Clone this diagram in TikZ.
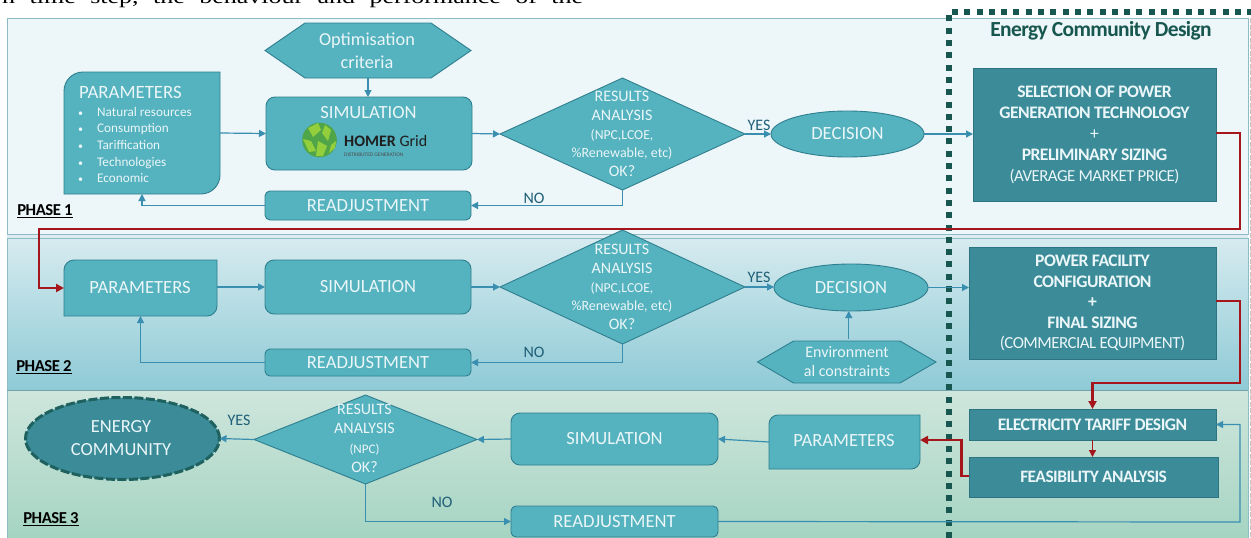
\documentclass[tikz,border=0pt]{standalone}
\usepackage{fontspec}
\setmainfont{Carlito}
\newfontfamily\serifdoc[FakeStretch=1.3]{Liberation Serif}
\usetikzlibrary{shapes.geometric,arrows.meta,calc}
\definecolor{pone}{HTML}{EDF6F8}
\definecolor{pgap}{HTML}{DCECF0}
\definecolor{pedge}{HTML}{8DBCC6}
\definecolor{ptwotop}{HTML}{D6EBEF}
\definecolor{ptwobot}{HTML}{8ECAD6}
\definecolor{pthreetop}{HTML}{CFE6DD}
\definecolor{pthreebot}{HTML}{A5D4C2}
\definecolor{boxfill}{HTML}{55B2BF}
\definecolor{boxedge}{HTML}{2F7F8E}
\definecolor{darkfill}{HTML}{3B8B99}
\definecolor{darkedge}{HTML}{2C7482}
\definecolor{txtw}{HTML}{EAF6F8}
\definecolor{flow}{HTML}{3A8FB0}
\definecolor{redflow}{HTML}{A5161C}
\definecolor{dgreen}{HTML}{17574F}
\definecolor{labelc}{HTML}{1F5F78}
\definecolor{logobase}{HTML}{4FA548}
\definecolor{logolite}{HTML}{93CF3C}
\tikzset{
  boxst/.style={draw=boxedge,fill=boxfill,line width=0.9pt},
  darkst/.style={draw=darkedge,fill=darkfill,line width=0.9pt},
  rbox/.style={boxst,rectangle,rounded corners=9pt,inner sep=0pt,outer sep=0pt},
  rboxs/.style={boxst,rectangle,rounded corners=5pt,inner sep=0pt,outer sep=0pt},
  dbox/.style={darkst,rectangle,inner sep=0pt,outer sep=0pt,text=txtw,align=center},
  dia/.style={boxst,diamond,inner sep=0pt,outer sep=0pt},
  ell/.style={boxst,ellipse,inner sep=0pt,outer sep=0pt},
  hold/.style={rectangle,inner sep=0pt,outer sep=0pt},
  wt/.style={text=txtw,align=center,inner sep=0pt},
  flowline/.style={draw=flow,line width=1.2pt,-{Triangle[length=7pt,width=7pt]}},
  redline/.style={draw=redflow,line width=2.4pt,-{Triangle[length=8pt,width=8pt]},line join=miter},
  redthin/.style={draw=redflow,line width=1.4pt,-{Triangle[length=7pt,width=7pt]}},
  lab/.style={text=labelc,inner sep=0pt,font=\fontsize{16}{18}\selectfont},
  phase/.style={text=black,inner sep=0pt,font=\bfseries\fontsize{16.7}{18}\selectfont},
  midt/.style={font=\fontsize{18.6}{23}\selectfont},
  diat/.style={font=\fontsize{13.7}{18.6}\selectfont},
  listt/.style={wt,anchor=base west,font=\fontsize{13.2}{16}\selectfont}
}
\newcommand{\hexshape}[6]{% name,x1,y1,x2,y2,inset
  \draw[boxst] (#2,{(#3+#5)/2}) -- (#2+#6,#3) -- (#4-#6,#3) -- (#4,{(#3+#5)/2}) -- (#4-#6,#5) -- (#2+#6,#5) -- cycle;
  \node[hold,minimum width={(#4-#2)*1pt},minimum height={(#5-#3)*1pt}] (#1) at ({(#2+#4)/2},{(#3+#5)/2}) {};
}
\newcommand{\cutshape}[6]{% name,x1,y1,x2,y2,r : round top-left, bottom-right
  \draw[boxst] (#2,#5) -- (#2,#3+#6) .. controls (#2,#3+#6*0.45) and (#2+#6*0.45,#3) .. (#2+#6,#3)
     -- (#4,#3) -- (#4,#5-#6) .. controls (#4,#5-#6*0.45) and (#4-#6*0.45,#5) .. (#4-#6,#5) -- cycle;
  \node[hold,minimum width={(#4-#2)*1pt},minimum height={(#5-#3)*1pt}] (#1) at ({(#2+#4)/2},{(#3+#5)/2}) {};
}
\newcommand{\boxat}[7]{% style,name,x1,y1,x2,y2,text
  \node[#1,minimum width={(#5-#3)*1pt},minimum height={(#6-#4)*1pt}] (#2) at ({(#3+#5)/2},{(#4+#6)/2}) {#7};
}
\newcommand{\tl}{\addfontfeature{LetterSpace=-3}}
\newcommand{\lineb}[1]{{\fontsize{16}{18}\selectfont #1}}
\newcommand{\blt}{\makebox[19pt][l]{\fontsize{10}{10}\selectfont•}}
\begin{document}
\begin{tikzpicture}[x=1pt,y=-1pt]
\path[use as bounding box,fill=white] (0,0) rectangle (1251,538);
\begin{scope}
\clip (0,0) rectangle (1251,538);
% cut-off text line above the figure
\node[anchor=base west,inner sep=0pt,font=\serifdoc\fontsize{20}{22}\selectfont,text=black] (cuttext) at (2,3)
  {\hbox to 581pt{h\hfill time\hfill step,\hfill the\hfill behaviour\hfill and\hfill performance\hfill of\hfill the}};
% phase bands
\fill[pgap] (7,234) rectangle (1248,238);
\draw[pedge,fill=pone,line width=0.9pt] (7,18) rectangle (1248,234);
\draw[pedge,line width=0.8pt,top color=ptwotop,bottom color=ptwobot] (7,238) rectangle (1248,390);
\fill[top color=pthreetop,bottom color=pthreebot] (7,390) rectangle (1248,538);
\draw[pedge,line width=0.8pt] (7,390) -- (7,538);
\draw[pedge,line width=0.8pt] (1248,390) -- (1248,538);
\draw[color=ptwobot!80!black,line width=1pt] (7,390) -- (1248,390);
\draw[gray!45,line width=1.2pt,dash pattern=on 5pt off 1.5pt] (1250.3,18) -- (1250.3,538);
% design frame
\draw[dgreen,line width=5.5pt,dash pattern=on 6pt off 6.3pt] (949,538) -- (949,12) -- (1251,12);
\node[inner sep=0pt,text=dgreen,font=\bfseries\fontsize{21.5}{24}\selectfont] (ecd) at (1101,31) {\tl Energy Community Design};
% PHASE 1
\hexshape{opt}{265}{23}{471}{78}{40}
\node[wt,font=\fontsize{18.3}{23}\selectfont] (optt) at (367,51) {Optimisation\\criteria};
\cutshape{par1}{64}{72}{220}{194}{19}
\node[wt,anchor=base west,font=\fontsize{18.8}{20}\selectfont] (par1h) at (79,98) {PARAMETERS};
\node[listt] (par1a) at (78,116) {\blt Natural resources};
\node[listt] (par1b) at (78,132) {\blt Consumption};
\node[listt] (par1c) at (78,149) {\blt Tariffication};
\node[listt] (par1d) at (78,166) {\blt Technologies};
\node[listt] (par1e) at (78,182) {\blt Economic};
\boxat{rbox}{sim1}{266}{97}{472}{170}{}
\node[wt,midt] (sim1t) at (368.5,113) {SIMULATION};
% logo
\fill[logobase] (319.5,140) circle (17.3);
\fill[logolite] (308,128) -- (318,123) -- (321,130) -- (313,137) -- cycle;
\fill[logolite] (325,125) -- (331,130) -- (328,141) -- (322,133) -- cycle;
\fill[logolite] (303,139) -- (311,141) -- (316,151) -- (309,152) -- cycle;
\fill[logolite] (318,141) -- (327,146) -- (323,156) -- (316,156) -- cycle;
\fill[logolite] (331,145) -- (336,141) -- (335,148) -- (329,153) -- cycle;
\node[inner sep=0pt,anchor=base west,text=black!88,font=\fontsize{16}{18}\selectfont] (hom) at (344,146) {\textbf{HOMER} Grid};
\node[inner sep=0pt,anchor=base west,text=black!70,font=\fontsize{5.4}{6}\selectfont] (homs) at (344,156) {DISTRIBUTED GENERATION};
\node[dia,minimum width=245pt,minimum height=112pt] (dia1) at (622.5,134) {};
\node[wt,diat] (dia1t) at (622,134) {\lineb{RESULTS}\\\lineb{ANALYSIS}\\(NPC,LCOE,\\{\fontsize{14}{16}\selectfont\%Renewable, etc)}\\\lineb{OK?}};
\node[ell,minimum width=153pt,minimum height=46pt] (dec1) at (847.5,134) {};
\node[wt,midt] (dec1t) at (847.5,134) {DECISION};
\boxat{rboxs}{rea1}{265}{191}{471}{220}{}
\node[wt,midt] (rea1t) at (rea1) {READJUSTMENT};
\boxat{dbox}{des1}{973}{68}{1216}{201}{%
  \begin{minipage}{243pt}\centering\fontsize{17.6}{21}\selectfont\bfseries\tl SELECTION OF POWER\\GENERATION TECHNOLOGY\\{\mdseries +}\\PRELIMINARY SIZING\\{\mdseries\fontsize{16.8}{21}\selectfont (AVERAGE MARKET PRICE)}\end{minipage}}
\node[phase] (ph1) at (45,211) {\underline{\tl PHASE 1}};
\node[lab] (yes1) at (759,125) {YES};
\node[lab] (no1) at (534,198) {NO};
% PHASE 2
\cutshape{par2}{64}{260}{217}{316}{10}
\node[wt,midt] (par2t) at (140,288) {PARAMETERS};
\boxat{rbox}{sim2}{265}{260}{471}{314}{}
\node[wt,midt] (sim2t) at (sim2) {SIMULATION};
\node[dia,minimum width=245pt,minimum height=114pt] (dia2) at (622.5,287) {};
\node[wt,diat] (dia2t) at (622,287) {\lineb{RESULTS}\\\lineb{ANALYSIS}\\(NPC,LCOE,\\{\fontsize{14}{16}\selectfont\%Renewable, etc)}\\\lineb{OK?}};
\boxat{rboxs}{rea2}{265}{349}{471}{376}{}
\node[wt,midt] (rea2t) at (rea2) {READJUSTMENT};
\node[ell,minimum width=154pt,minimum height=47pt] (dec2) at (851,287.5) {};
\node[wt,midt] (dec2t) at (851,287.5) {DECISION};
\hexshape{env}{757.5}{341}{936}{383}{36}
\node[wt,font=\fontsize{16}{19.5}\selectfont] (envt) at (847,361.5) {Environment\\al constraints};
\boxat{dbox}{des2}{969}{247}{1216}{359}{%
  \begin{minipage}{247pt}\centering\fontsize{17.6}{20.5}\selectfont\bfseries\tl POWER FACILITY\\CONFIGURATION\\+\\FINAL SIZING\\{\mdseries\fontsize{16.9}{20.5}\selectfont (COMMERCIAL EQUIPMENT)}\end{minipage}}
\node[phase] (ph2) at (44,367) {\underline{\tl PHASE 2}};
\node[lab] (yes2) at (759,277) {YES};
\node[lab] (no2) at (534,352) {NO};
% PHASE 3
\node[ellipse,draw=dgreen!80!darkfill,fill=darkfill,line width=3pt,dash pattern=on 9pt off 2.5pt,inner sep=0pt,outer sep=0pt,minimum width=194pt,minimum height=82pt] (ec) at (122.5,438.5) {};
\node[wt,font=\fontsize{18.5}{23.5}\selectfont] (ect) at (121,438) {ENERGY\\COMMUNITY};
\node[dia,minimum width=223pt,minimum height=89pt] (dia3) at (365.5,439.5) {};
\node[wt,font=\fontsize{16}{19.5}\selectfont] (dia3t) at (364.5,438.5) {RESULTS\\ANALYSIS\\{\fontsize{13}{15}\selectfont(NPC)}\\OK?};
\boxat{rbox}{sim3}{511}{413}{718}{465}{}
\node[wt,midt] (sim3t) at (sim3) {SIMULATION};
\cutshape{par3}{769}{415}{920}{469}{9}
\node[wt,midt] (par3t) at (844,441) {PARAMETERS};
\boxat{rboxs}{rea3}{511}{506}{718}{537}{}
\node[wt,midt] (rea3t) at (rea3) {READJUSTMENT};
\boxat{dbox}{elec}{969}{409}{1216}{440}{\fontsize{17.6}{20}\selectfont\bfseries\tl ELECTRICITY TARIFF DESIGN}
\boxat{dbox}{feas}{969}{457}{1218}{497}{\fontsize{17.4}{20}\selectfont\bfseries\tl FEASIBILITY ANALYSIS}
\node[phase] (ph3) at (51,519) {\underline{\tl PHASE 3}};
\node[lab] (yes3) at (239,420) {YES};
\node[lab] (no3) at (442,502) {NO};
% blue connectors
\draw[flowline] (opt.south) -- (sim1.north -| opt.south);
\draw[flowline] (par1.east) -- (sim1.west);
\draw[flowline] (sim1.east) -- (dia1.west);
\draw[flowline] (dia1.east) -- (dec1.west);
\draw[flowline] (dec1.east) -- (des1.west |- dec1.east);
\draw[flowline] (dia1.south) |- (rea1.east);
\draw[flowline] (rea1.west) -| (par1.south);
\draw[flowline] (par2.east |- sim2.east) -- (sim2.west);
\draw[flowline] (sim2.east) -- (dia2.west);
\draw[flowline] (dia2.east) -- (dec2.west |- dia2.east);
\draw[flowline] (dec2.east) -- (des2.west |- dec2.east);
\draw[flowline] (dia2.south) |- (rea2.east);
\draw[flowline] (rea2.west) -| (par2.south);
\draw[flowline] (env.north) ++(2,-2) coordinate (envup) -- (dec2.south -| envup);
\draw[flowline] (par3.west) -- (sim3.east);
\draw[flowline] (sim3.west) -- (dia3.east);
\draw[flowline] (dia3.west) -- (ec.east);
\draw[flowline] (dia3.south) |- (rea3.west);
\coordinate (backr) at (1240,522);
\draw[flowline] (rea3.east) -- (backr) |- (elec.east);
% red connectors
\coordinate (r1a) at (1240,133);
\coordinate (r1b) at (1240,229);
\coordinate (r1c) at (39,229);
\draw[redline] (des1.east |- r1a) -- (r1a) -- (r1b) -- (r1c) |- (par2.west);
\coordinate (r2a) at (1240,301);
\coordinate (r2b) at (1240,383);
\draw[redline] (des2.east |- r2a) -- (r2a) -- (r2b) -| (elec.north);
\draw[redthin] (elec.south) -- (feas.north -| elec.south);
\coordinate (r3a) at (961.5,476);
\draw[redline] (feas.west |- r3a) -- (r3a) |- (par3.east |- elec.south);
\end{scope}
\end{tikzpicture}
\end{document}
